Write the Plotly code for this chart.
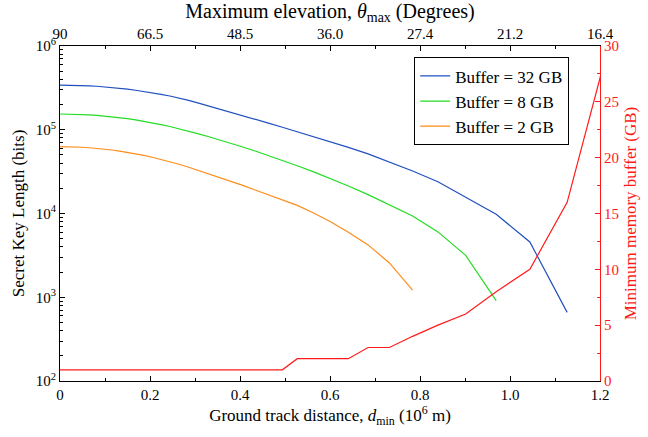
import plotly.graph_objects as go

# Ground track distance (10^6 m), one point per 2 degrees of max elevation (90 -> 16 deg)
d_min = [0, 0.0162, 0.0324, 0.0487, 0.0651, 0.0817, 0.0984, 0.1153, 0.1325, 0.1501,
         0.1680, 0.1862, 0.2050, 0.2242, 0.2441, 0.2646, 0.2859, 0.3079, 0.3308, 0.3547,
         0.3798, 0.4061, 0.4338, 0.4631, 0.4942, 0.5272, 0.5624, 0.6002, 0.6408, 0.6846,
         0.7320, 0.7835, 0.8398, 0.9015, 0.9693, 1.0441, 1.1270, 1.2189]

# Secret key length (bits)
skl_32gb = [342000, 341500, 340200, 337900, 334800, 330700, 325700, 319900, 313000, 305200,
            296500, 287000, 276400, 265100, 252900, 239900, 223900, 208000, 192300, 177000,
            161800, 147200, 133400, 120000, 107200, 94800, 83400, 72400, 61700, 51500,
            41500, 32200, 23900, 15700, 9800, 4570, 660]
skl_8gb = [154200, 153900, 153300, 152100, 150500, 148400, 145800, 142900, 139400, 135500,
           131100, 126300, 121000, 115400, 109400, 103000, 96300, 89300, 82400, 75700,
           68900, 62200, 55700, 49300, 43200, 37200, 31600, 26300, 21300, 16800,
           12800, 9330, 6030, 3160, 912]
skl_2gb = [62800, 62700, 62400, 61800, 61000, 60000, 58700, 57300, 55600, 53800,
           51700, 49400, 47000, 44400, 41600, 38700, 35700, 32700, 29900, 27000,
           24300, 21700, 19100, 16800, 14700, 12500, 10200, 8040, 5960, 4220,
           2570, 1220]

# Minimum memory buffer (GB)
min_buffer = [1] * 25 + [2, 2, 2, 2, 3, 3, 4, 5, 6, 8, 10, 16, 30]

x_tick_vals = [0, 0.2, 0.4, 0.6, 0.8, 1.0, 1.2]
x_tick_text = ["0", "0.2", "0.4", "0.6", "0.8", "1.0", "1.2"]
elev_tick_text = ["90", "66.5", "48.5", "36.0", "27.4", "21.2", "16.4"]
y_tick_vals = [1e2, 1e3, 1e4, 1e5, 1e6]
y_tick_text = ["10<sup>2</sup>", "10<sup>3</sup>", "10<sup>4</sup>", "10<sup>5</sup>", "10<sup>6</sup>"]
buf_tick_vals = [0, 5, 10, 15, 20, 25, 30]

series_names = ["Buffer = 32 GB", "Buffer = 8 GB", "Buffer = 2 GB"]
series_colors = ["#2050bf", "#22dd22", "#ff8c1a"]
RED = "#ff1a1a"
FONT = "Liberation Serif"

x_minor = [0.1 + 0.2 * i for i in range(6)]
y_minor = [k * 10 ** n for n in range(2, 6) for k in range(2, 10)]

fig = go.Figure()
for ys, name, col in zip([skl_32gb, skl_8gb, skl_2gb], series_names, series_colors):
    fig.add_trace(go.Scatter(x=d_min[:len(ys)], y=ys, mode="lines", name=name,
                             line=dict(color=col, width=1.2), xaxis="x", yaxis="y"))

fig.add_trace(go.Scatter(x=d_min, y=min_buffer, mode="lines", showlegend=False,
                         line=dict(color=RED, width=1.2), xaxis="x", yaxis="y2"))
# anchor trace so the top (elevation) axis is drawn
fig.add_trace(go.Scatter(x=[0.6], y=[1e4], mode="markers", marker=dict(opacity=0),
                         showlegend=False, hoverinfo="skip", xaxis="x2", yaxis="y"))

common_x = dict(range=[0, 1.2], tickvals=x_tick_vals, ticks="inside", ticklen=5,
                tickcolor="black", showline=True, linecolor="black", linewidth=1,
                showgrid=False, zeroline=False, tickfont=dict(size=15), automargin=False,
                minor=dict(tickmode="array", tickvals=x_minor, ticks="inside", ticklen=3,
                           tickcolor="black", showgrid=False))

fig.update_layout(
    width=648, height=437,
    margin=dict(l=60, r=48, t=46, b=56),
    paper_bgcolor="white", plot_bgcolor="white",
    font=dict(family=FONT, size=15, color="black"),
    xaxis=dict(**common_x, ticktext=x_tick_text,
               title=dict(text="Ground track distance, <i>d</i><sub>min</sub> (10<sup>6</sup> m)",
                          font=dict(size=17), standoff=6)),
    xaxis2=dict(**common_x, ticktext=elev_tick_text, overlaying="x", side="top", anchor="y",
                title=dict(text="Maximum elevation, <i>θ</i><sub>max</sub> (Degrees)",
                           font=dict(size=20), standoff=6)),
    yaxis=dict(type="log", range=[2, 6], tickvals=y_tick_vals, ticktext=y_tick_text,
               ticks="inside", ticklen=5, tickcolor="black", showline=True,
               linecolor="black", linewidth=1, showgrid=False, zeroline=False,
               tickfont=dict(size=15), automargin=False,
               minor=dict(tickmode="array", tickvals=y_minor, ticks="inside", ticklen=3,
                          tickcolor="black", showgrid=False),
               title=dict(text="Secret Key Length (bits)", font=dict(size=17), standoff=6)),
    yaxis2=dict(range=[0, 30], tickvals=buf_tick_vals, overlaying="y", side="right", anchor="x",
                ticks="inside", ticklen=5, tickcolor=RED, showline=True, linecolor=RED,
                linewidth=1, showgrid=False, zeroline=False, automargin=False,
                tickfont=dict(size=15, color=RED),
                minor=dict(tickmode="array", tickvals=[2.5 + 5 * i for i in range(6)],
                           ticks="inside", ticklen=3, tickcolor=RED, showgrid=False),
                title=dict(text="Minimum memory buffer (GB)", font=dict(size=17, color=RED),
                           standoff=6)),
    legend=dict(x=0.943, y=0.966, xanchor="right", yanchor="top", bgcolor="white",
                bordercolor="black", borderwidth=1, font=dict(size=17), tracegroupgap=0,
                itemwidth=30),
)

fig.write_html("out.html", config={"displayModeBar": False},
               post_script="document.body.style.margin='0px';")
